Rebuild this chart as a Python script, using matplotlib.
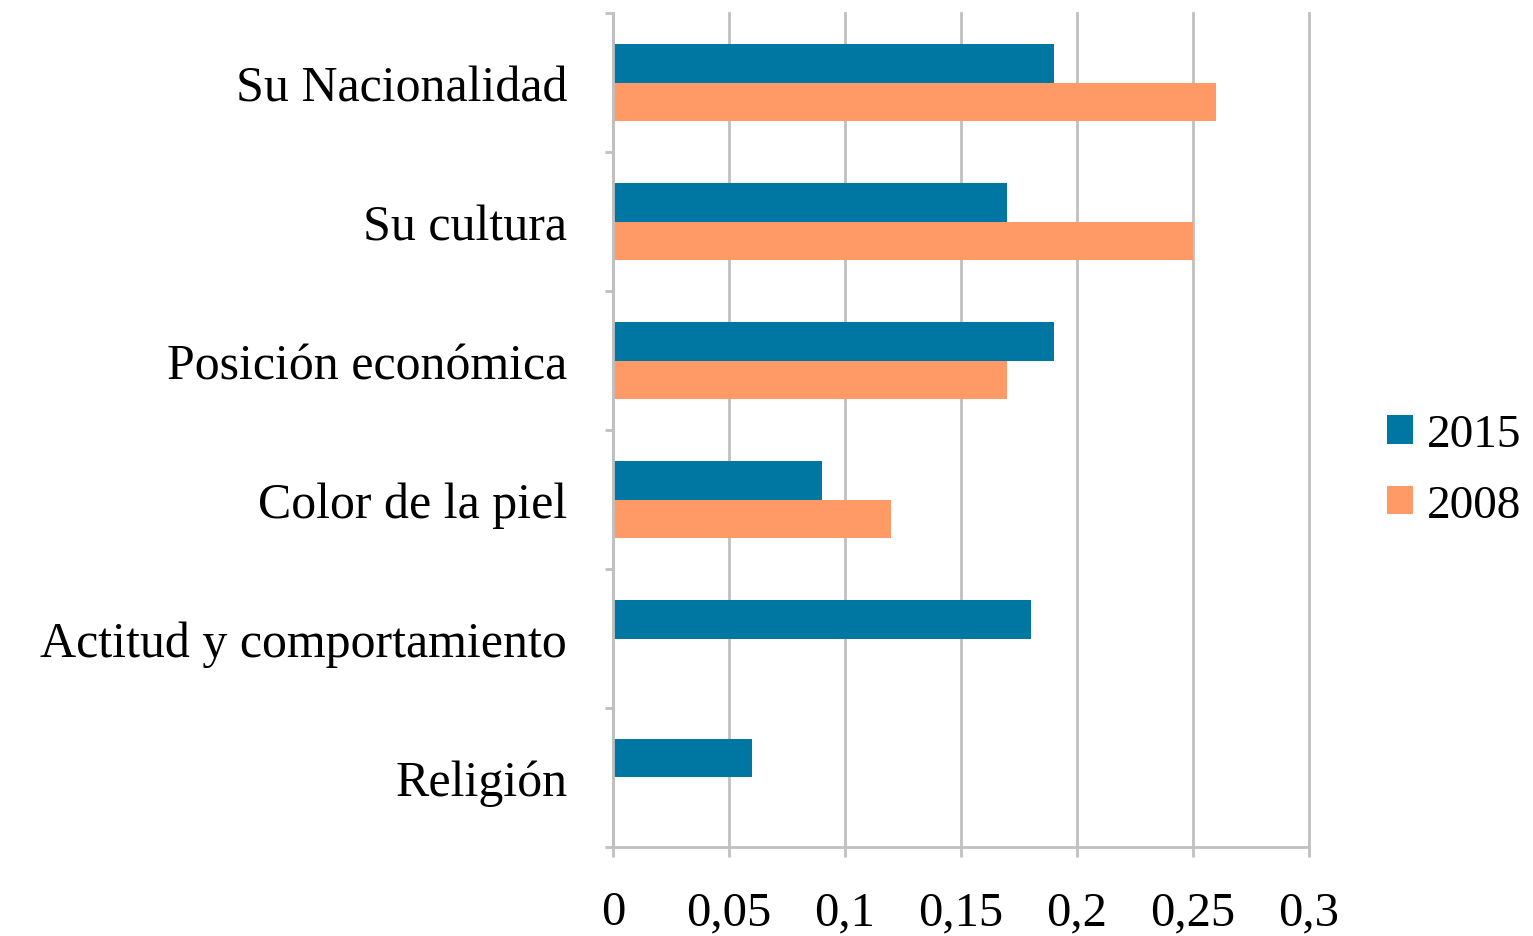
import numpy as np
import matplotlib.pyplot as plt
from matplotlib.ticker import FixedLocator

plt.rcParams['font.family'] = ['Liberation Serif', 'DejaVu Serif']

categories = ["Su Nacionalidad", "Su cultura", "Posición económica",
              "Color de la piel", "Actitud y comportamiento", "Religión"]
v2015 = [0.19, 0.17, 0.19, 0.09, 0.18, 0.06]
v2008 = [0.26, 0.25, 0.17, 0.12, 0, 0]
xticks = [0, 0.05, 0.1, 0.15, 0.2, 0.25, 0.3]
xlabels = ["0", "0,05", "0,1", "0,15", "0,2", "0,25", "0,3"]

blue = "#0076A3"
orange = "#FF9966"
grey = "#C0C0C0"

fig = plt.figure(figsize=(15.33, 9.37), dpi=100)
ax = fig.add_axes([0.3999, 0.095, 0.454, 0.890])

y = np.arange(len(categories))
h = 0.28
b1 = ax.barh(y - h / 2, v2015, height=h, color=blue, label="2015")
b2 = ax.barh(y + h / 2, v2008, height=h, color=orange, label="2008")

ax.set_ylim(len(categories) - 0.5, -0.5)
ax.set_xlim(0, 0.3)

ax.set_yticks(y)
ax.set_yticklabels(categories, fontsize=36)
ax.yaxis.set_minor_locator(FixedLocator(np.arange(-0.5, len(categories), 1)))
ax.tick_params(axis='y', which='major', length=0, pad=33)
ax.tick_params(axis='y', which='minor', length=6, width=2, color=grey)

ax.set_xticks(xticks)
ax.set_xticklabels(xlabels, fontsize=35)
ax.tick_params(axis='x', length=7, width=2, color=grey, pad=24)

ax.grid(axis='x', color=grey, linewidth=2)
for line in ax.get_xgridlines():
    line.set_clip_on(False)
ax.set_axisbelow(True)
for s in ['top', 'right']:
    ax.spines[s].set_visible(False)
for s in ['left', 'bottom']:
    ax.spines[s].set_color(grey)
    ax.spines[s].set_linewidth(2)

fig.legend(handles=[b1, b2], loc='center left', bbox_to_anchor=(0.9045, 0.497),
           frameon=False, fontsize=34, handlelength=0.55, handleheight=0.55,
           handletextpad=0.3, labelspacing=0.6, borderpad=0, borderaxespad=0)

fig.savefig("out.png", dpi=100)
